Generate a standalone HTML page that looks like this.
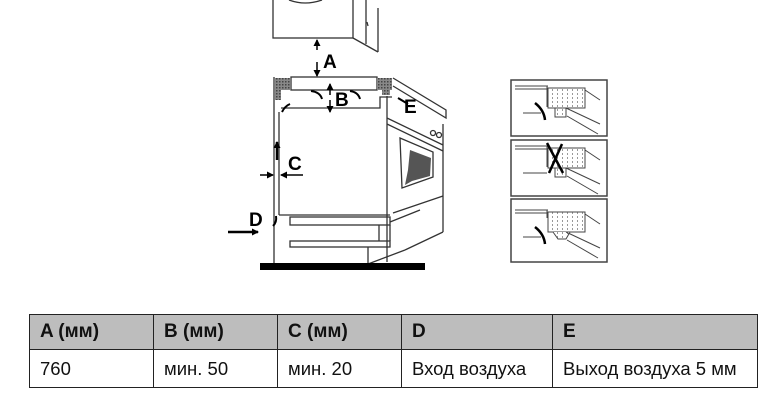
<!DOCTYPE html>
<html><head><meta charset="utf-8"><style>
html,body{margin:0;padding:0;background:#fff;}
body{width:780px;height:408px;position:relative;overflow:hidden;font-family:"Liberation Sans",sans-serif;}
svg{position:absolute;left:0;top:0;}
table{position:absolute;left:29px;top:314px;width:729px;border-collapse:collapse;font-size:18.5px;color:#111;}
td{border:1px solid #222;padding:0 0 0 10px;}
tr.h td{background:#bdbdbd;height:34px;font-weight:bold;font-size:19px;}
tr.r td{height:37px;}
</style></head><body>
<svg width="780" height="408" viewBox="0 0 780 408">
<defs>
<pattern id="g" width="3" height="3" patternUnits="userSpaceOnUse"><rect width="3" height="3" fill="#888"/><rect width="1.5" height="1.5" fill="#444"/></pattern>
<pattern id="d" width="5" height="4" patternUnits="userSpaceOnUse"><rect width="5" height="4" fill="#fff"/><rect x="2" y="1" width="1" height="2" fill="#999"/></pattern>
<marker id="ar" markerUnits="userSpaceOnUse" markerWidth="7" markerHeight="7" refX="6" refY="3.5" orient="auto"><path d="M0,0 L7,3.5 L0,7 z" fill="#000"/></marker>
</defs>
<g fill="none" stroke="#333" stroke-width="1.3">
<rect x="273" y="-2" width="80" height="40" fill="#fff"/>
<path d="M289,0 Q305,6 322,0"/>
<path d="M353,38 L378,52 M366,0 L366,44 M378,8 L378,52"/>
<path d="M367,22 L368,26"/>
<rect x="291" y="77" width="86" height="13"/>
<path d="M281,108 L380,108 L380,97 L392,97"/>
<path d="M274,77 L274,268 M279,112 L279,215"/>
<path d="M279,215 L390,215"/>
<rect x="290" y="217" width="100" height="8"/>
<rect x="290" y="241" width="100" height="6"/>
<path d="M379,225 L379,241 M390,225 L390,241 M368,247 L368,264 M368,264 L405,250 M390,222 L420,210"/>
<path d="M393,78 L446,110 L446,118 L393,86"/>
<path d="M387,96 L387,262 M443,124 L443,232 M387,118 L443,145 M387,124 L443,151"/>
<path d="M400,138 L433,152 L433,177 L402,188 Z"/>
<path d="M393,213 L443,196 M443,232 L405,250"/>
<circle cx="433" cy="133" r="2.5"/><circle cx="439" cy="135" r="2.5"/>
<path d="M311,91 Q320,92 322,99" stroke="#000" stroke-width="2"/>
<path d="M350,91 Q358,92 360,99" stroke="#000" stroke-width="2"/>
<path d="M282,112 Q285,106 290,104" stroke="#000" stroke-width="2"/>
<path d="M398,98 L408,104" stroke="#000" stroke-width="2"/>
<path d="M273,226 Q277,222 276,216" stroke="#000" stroke-width="2"/>
</g>
<rect x="275" y="78" width="15" height="12" fill="url(#g)"/>
<rect x="275" y="90" width="6" height="10" fill="url(#g)"/>
<rect x="377" y="78" width="15" height="12" fill="url(#g)"/>
<rect x="382" y="90" width="8" height="5" fill="url(#g)"/>
<path d="M410,150 L431,158 L430,176 L412,181 L405,185 L408,170 Z" fill="#555"/>
<rect x="260" y="263" width="165" height="7" fill="#000"/>
<g stroke="#000" stroke-width="1.5" fill="none">
<path d="M317,50 L317,40" marker-end="url(#ar)"/><path d="M317,62 L317,76" marker-end="url(#ar)"/>
<path d="M330,95 L330,84" marker-end="url(#ar)"/><path d="M330,100 L330,112" marker-end="url(#ar)"/>
<path d="M260,175 L273,175" marker-end="url(#ar)"/><path d="M303,175 L281,175" marker-end="url(#ar)"/>
<path d="M228,232 L258,232" stroke-width="2.5" marker-end="url(#ar)"/>
<path d="M277,160 L277,142" stroke-width="2.5" marker-end="url(#ar)"/>
</g>
<g font-family="Liberation Sans" font-weight="bold" font-size="19" fill="#000">
<text x="323" y="68">A</text><text x="335" y="106">B</text><text x="288" y="170">C</text>
<text x="249" y="226">D</text><text x="404" y="113">E</text>
</g>
<g fill="none" stroke="#444" stroke-width="1">
<rect x="511" y="80" width="96" height="56" stroke-width="1.5"/>
<path d="M515,86 L548,86 M515,89 L548,89 M547,86 L547,107"/>
<rect x="548" y="88" width="37" height="20" fill="url(#d)"/>
<rect x="555" y="108" width="11" height="9" fill="url(#d)"/>
<path d="M585,90 L600,100 M566,108 L600,124 M567,116 L598,134 M523,113 L541,113"/>
</g>
<path d="M535,103 Q544,110 545,120" stroke="#000" stroke-width="2.5" fill="none"/>
<g fill="none" stroke="#444" stroke-width="1" transform="translate(0,60)">
<rect x="511" y="80" width="96" height="56" stroke-width="1.5"/>
<path d="M515,86 L548,86 M515,89 L548,89 M547,86 L547,107"/>
<rect x="548" y="88" width="37" height="20" fill="url(#d)"/>
<rect x="555" y="108" width="11" height="9" fill="url(#d)"/>
<path d="M585,90 L600,100 M566,108 L600,124 M567,116 L598,134 M523,113 L547,113"/>
<path d="M547,83 L563,113 M562,84 L549,113" stroke="#000" stroke-width="2.5"/>
</g>
<g fill="none" stroke="#444" stroke-width="1" transform="translate(0,119)">
<rect x="511" y="80" width="96" height="63" stroke-width="1.5"/>
<path d="M515,91 L548,91 M515,94 L548,94 M547,91 L547,99"/>
<rect x="548" y="93" width="37" height="20" fill="url(#d)"/>
<path d="M553,113 L558,120 L566,120 L570,113" fill="url(#d)"/>
<path d="M585,95 L600,105 M566,113 L600,129 M567,121 L598,139 M523,118 L541,118"/>
<path d="M535,108 Q544,115 545,125" stroke="#000" stroke-width="2.5"/>
</g>
</svg>
<table>
<tr class="h"><td style="width:113px">A (мм)</td><td style="width:113px">B (мм)</td><td style="width:113px">C (мм)</td><td style="width:140px">D</td><td>E</td></tr>
<tr class="r"><td>760</td><td>мин. 50</td><td>мин. 20</td><td>Вход воздуха</td><td>Выход воздуха 5 мм</td></tr>
</table>
</body></html>
